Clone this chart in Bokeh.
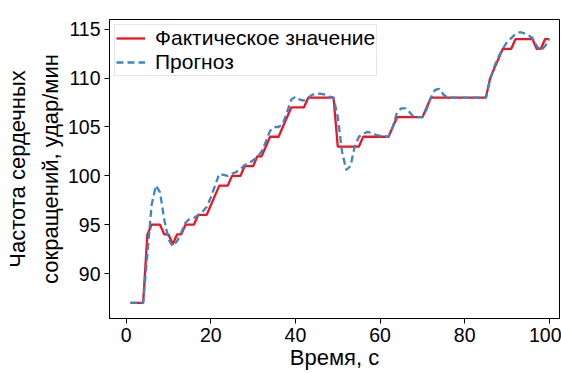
from bokeh.plotting import figure
from bokeh.embed import file_html
from bokeh.resources import INLINE
from bokeh.models import Range1d, FixedTicker, Legend, LegendItem

t = list(range(1, 101))

actual = [87, 87, 87, 87, 94, 95, 95, 95, 94, 94,
          93, 94, 94, 95, 95, 95, 96, 96, 96, 97,
          98, 99, 99, 99, 100, 100, 100, 101, 101, 101,
          102, 102, 103, 104, 104, 104, 105, 106, 107, 107,
          107, 107, 108, 108, 108, 108, 108, 108, 108, 103,
          103, 103, 103, 103, 103, 104, 104, 104, 104, 104,
          104, 104, 105, 106, 106, 106, 106, 106, 106, 106,
          107, 108, 108, 108, 108, 108, 108, 108, 108, 108,
          108, 108, 108, 108, 108, 110, 111, 112, 113, 113,
          113, 114, 114, 114, 114, 114, 113, 113, 114, 114]

forecast = [87, 87, 87, 87, 92, 97, 99, 98.3, 95.5, 93.5,
            92.8, 93.3, 94.2, 95.2, 95.6, 95.7, 96, 96.3, 96.8, 97.8,
            99, 100.2, 100.1, 100, 100.2, 100.4, 100.7, 101.1, 101.3, 101.6,
            101.9, 102.5, 103.5, 104.6, 105, 105, 105.3, 106.5, 107.8, 108.1,
            107.8, 107.7, 108, 108.3, 108.4, 108.4, 108.3, 108.1, 108, 106,
            102.5, 100.6, 101, 103, 104, 104.3, 104.5, 104.4, 104.2, 104.1,
            104, 104, 105, 106.5, 106.9, 106.9, 106.5, 106, 106, 106,
            106.8, 108, 108.8, 108.9, 108.3, 108, 108, 108, 108, 108,
            108, 108, 108, 108, 108, 109.8, 111.2, 112.2, 113, 113.7,
            114.1, 114.5, 114.7, 114.6, 114.4, 114.1, 113.3, 112.8, 113.3, 114]

x_ticks = [0, 20, 40, 60, 80, 100]
y_ticks = [90, 95, 100, 105, 110, 115]

FONT = "Liberation Sans"

p = figure(width=561, height=373, output_backend="svg", toolbar_location=None,
           x_range=Range1d(-3.95, 102.4), y_range=Range1d(85.4, 116.0),
           min_border_left=109, min_border_right=2, min_border_top=19, min_border_bottom=55)
p.background_fill_color = "white"
p.border_fill_color = "white"
p.outline_line_color = "black"
p.outline_line_width = 1
p.xgrid.visible = False
p.ygrid.visible = False

r1 = p.line(t, actual, line_color="#f0141e", line_width=2.3)
r2 = p.line(t, forecast, line_color="#3a87c4", line_width=2.3, line_dash="7 4")

for ax in (p.xaxis[0], p.yaxis[0]):
    ax.major_label_text_font = FONT
    ax.major_label_text_font_size = "19.5px"
    ax.major_label_text_color = "black"
    ax.axis_label_text_font = FONT
    ax.axis_label_text_font_size = "22px"
    ax.axis_label_text_font_style = "normal"
    ax.axis_label_text_color = "black"
    ax.minor_tick_line_color = None
    ax.major_tick_out = 5
    ax.major_tick_in = 0
    ax.major_tick_line_color = "black"
    ax.axis_line_color = "black"
    ax.major_label_standoff = 4

p.xaxis[0].ticker = FixedTicker(ticks=x_ticks)
p.yaxis[0].ticker = FixedTicker(ticks=y_ticks)
p.xaxis[0].axis_label = "Время, с"
p.xaxis[0].axis_label_standoff = 0
p.yaxis[0].axis_label = "Частота сердечных\nсокращений, удар/мин"
p.yaxis[0].axis_label_standoff = 2
p.yaxis[0].axis_label_text_line_height = 1.3

legend = Legend(items=[LegendItem(label="Фактическое значение", renderers=[r1]),
                       LegendItem(label="Прогноз", renderers=[r2])],
                location="top_left")
legend.label_text_font = FONT
legend.label_text_font_size = "21px"
legend.label_text_color = "black"
legend.label_text_line_height = 1.0
legend.glyph_width = 29
legend.glyph_height = 18
legend.label_height = 18
legend.label_standoff = 10
legend.padding = 1
legend.margin = 5
legend.spacing = -3
legend.border_line_color = "#cccccc"
legend.border_line_width = 1
legend.background_fill_alpha = 0.85
p.add_layout(legend)

open("out.html", "w").write(file_html(p, INLINE))
